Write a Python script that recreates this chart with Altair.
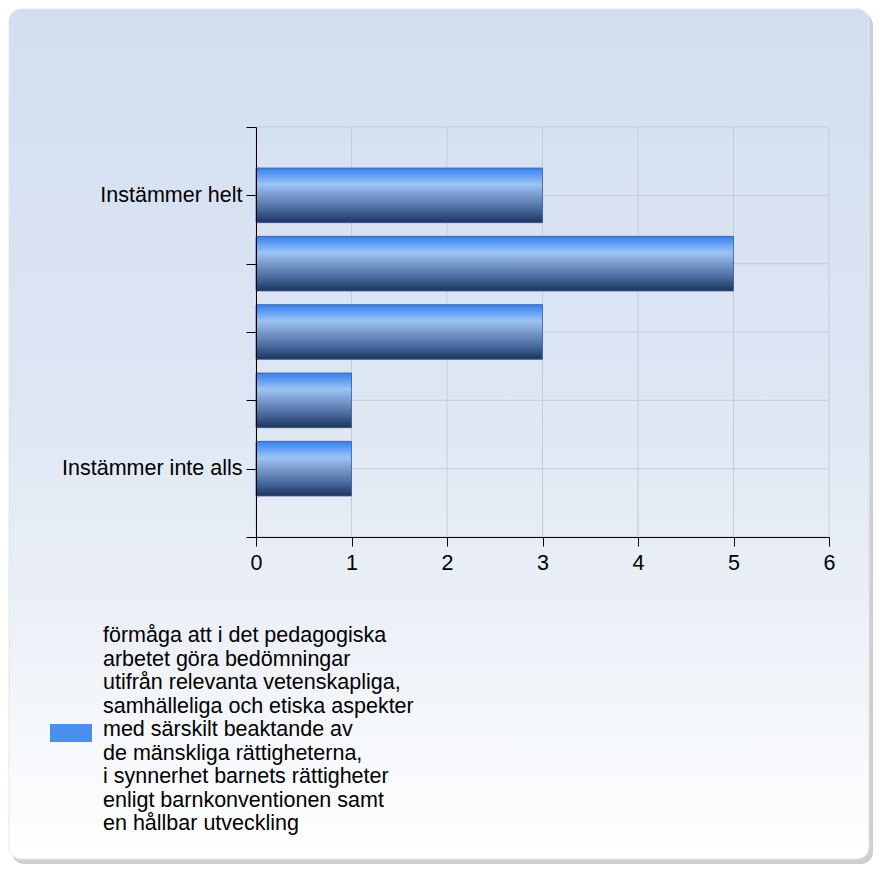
import altair as alt
import pandas as pd

# ---- data ----
categories = ["Instämmer helt", "", "", "", "Instämmer inte alls"]
values = [3, 5, 3, 1, 1]
series_lines = [
    "förmåga att i det pedagogiska",
    "arbetet göra bedömningar",
    "utifrån relevanta vetenskapliga,",
    "samhälleliga och etiska aspekter",
    "med särskilt beaktande av",
    "de mänskliga rättigheterna,",
    "i synnerhet barnets rättigheter",
    "enligt barnkonventionen samt",
    "en hållbar utveckling",
]
x_ticks = [0, 1, 2, 3, 4, 5, 6]
y_ticks = [0, 1, 2, 3, 4, 5, 6]

series_name = "|".join(series_lines)
df = pd.DataFrame({
    "cat": categories,
    "pos": list(range(1, len(categories) + 1)),
    "value": values,
    "series": [series_name] * len(categories),
})
grid_x = pd.DataFrame({"v": x_ticks})
grid_y = pd.DataFrame({"v": y_ticks})

FONT = "Liberation Sans"
label_arr = [""] + categories + [""]
label_js = "[" + ",".join("'" + s.replace("'", "\\'") + "'" for s in label_arr) + "]"

xscale = alt.Scale(domain=[0, 6], nice=False, zero=True)
yscale = alt.Scale(domain=[0, 6], nice=False, reverse=True)

# ---- background card ----
shadow = alt.Chart(pd.DataFrame({"a": [0]})).mark_rect(
    fill="#a8a8a8", opacity=0.55, cornerRadius=12
).encode(
    x=alt.value(-244), x2=alt.value(617), y=alt.value(-114), y2=alt.value(737)
)
card = alt.Chart(pd.DataFrame({"a": [0]})).mark_rect(
    cornerRadius=12,
    stroke="#e2e6ec",
    strokeWidth=1,
    fill=alt.Gradient(
        gradient="linear",
        stops=[
            alt.GradientStop(color="#d2def0", offset=0),
            alt.GradientStop(color="#dde6f3", offset=0.45),
            alt.GradientStop(color="#eef2f8", offset=0.75),
            alt.GradientStop(color="#ffffff", offset=1),
        ],
        x1=0, x2=0, y1=0, y2=1,
    ),
).encode(
    x=alt.value(-247), x2=alt.value(613), y=alt.value(-118), y2=alt.value(732)
)

# ---- grid lines ----
gx = alt.Chart(grid_x).mark_rule(color="#c6cdd9", strokeWidth=1).encode(
    x=alt.X("v:Q", scale=xscale)
)
gy = alt.Chart(grid_y).mark_rule(color="#c6cdd9", strokeWidth=1).encode(
    y=alt.Y("v:Q", scale=yscale)
)

base = alt.Chart(df).transform_calculate(
    y0="datum.pos - 0.4", y1="datum.pos + 0.4", zero="0"
)

x_enc = alt.X(
    "value:Q", scale=xscale, title=None,
    axis=alt.Axis(values=x_ticks, format="d", grid=False, tickSize=9,
                  labelPadding=6, zindex=1, labelFontSize=21.5,
                  labelColor="black", domainColor="black", tickColor="black",
                  labelFlush=False),
)
y_enc = alt.Y(
    "y0:Q", scale=yscale, title=None,
    axis=alt.Axis(values=y_ticks, grid=False, tickSize=10, labelPadding=4,
                  zindex=1, labelFontSize=21.5, labelColor="black",
                  domainColor="black", tickColor="black", labelLimit=400,
                  labelExpr=label_js + "[datum.value]", labelFlush=False,
                  labelOverlap=False),
)

flat = base.mark_rect().encode(
    x=x_enc, x2="zero:Q", y=y_enc, y2="y1:Q",
    color=alt.Color(
        "series:N",
        scale=alt.Scale(range=["#4a8fee"]),
        legend=alt.Legend(
            title=None, orient="none", legendX=-206, legendY=488,
            labelExpr="split(datum.label, '|')",
            labelFontSize=21.5, labelLimit=500,
            labelOffset=11, labelColor="black", labelFont=FONT,
            symbolType="M-1,4.19L1,4.19L1,5.05L-1,5.05Z",
            symbolSize=1764, symbolStrokeWidth=0, padding=0,
        ),
    ),
)

bars = base.mark_rect(
    stroke="#3a62a0", strokeWidth=0.8,
    fill=alt.Gradient(
        gradient="linear",
        stops=[
            alt.GradientStop(color="#3d7de4", offset=0),
            alt.GradientStop(color="#4f92f2", offset=0.08),
            alt.GradientStop(color="#9dc3f6", offset=0.3),
            alt.GradientStop(color="#7a9bcc", offset=0.5),
            alt.GradientStop(color="#4a6b9f", offset=0.75),
            alt.GradientStop(color="#27436f", offset=0.93),
            alt.GradientStop(color="#1d355f", offset=1),
        ],
        x1=0, x2=0, y1=0, y2=1,
    ),
).encode(x="value:Q", x2="zero:Q", y="y0:Q", y2="y1:Q")

chart = alt.layer(shadow, card, gx, gy, flat, bars).properties(
    width=573,
    height=410,
    autosize=alt.AutoSizeParams(type="none"),
    padding={"left": 248, "top": 119, "right": 45, "bottom": 337},
    background="white",
).configure(font=FONT).configure_view(strokeWidth=0).configure_axis(labelFont=FONT)

chart.save("out.html", embed_options={"renderer": "svg", "actions": False})
